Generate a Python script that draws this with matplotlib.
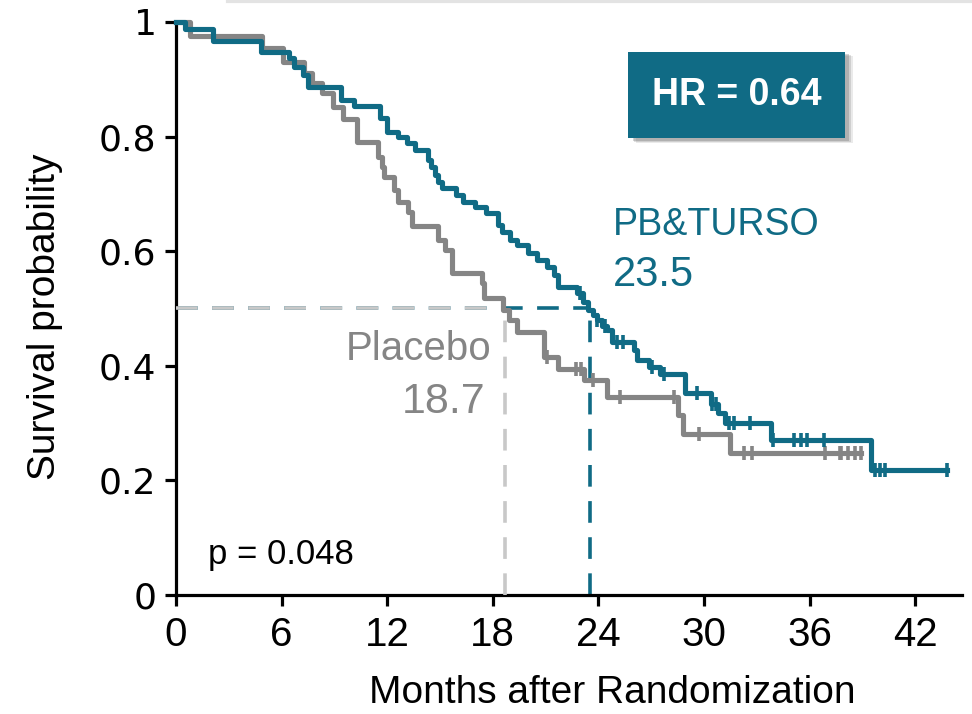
import matplotlib.pyplot as plt
import numpy as np
from matplotlib.patches import Rectangle

blue = '#106b85'
gray = '#858585'
light = '#c8c8c8'

# PB&TURSO arm: event times (months) and survival after each step
pb_t = [0.5, 2.1, 4.8, 6.4, 6.7, 7.2, 7.5, 9.4, 10.1, 11.6, 12.0, 12.6, 13.1, 13.6,
        14.3, 14.5, 14.7, 14.9, 15.1, 15.9, 16.3, 17.0, 17.6, 18.3, 18.5, 19.0, 19.4,
        20.0, 20.5, 21.1, 21.5, 21.7, 22.8, 23.1, 23.4, 23.7, 23.9, 24.2, 24.5, 24.8,
        26.0, 26.2, 26.9, 27.5, 28.9, 30.4, 30.8, 31.2, 33.8, 39.5]
pb_s = [0.988, 0.967, 0.948, 0.937, 0.921, 0.907, 0.887, 0.864, 0.853, 0.832, 0.808,
        0.799, 0.789, 0.777, 0.759, 0.747, 0.733, 0.721, 0.710, 0.698, 0.686, 0.677,
        0.667, 0.646, 0.634, 0.620, 0.611, 0.597, 0.585, 0.572, 0.558, 0.538, 0.527,
        0.511, 0.497, 0.489, 0.480, 0.470, 0.462, 0.442, 0.428, 0.410, 0.398, 0.386,
        0.352, 0.333, 0.318, 0.300, 0.270, 0.218]
pb_cens = [22.95, 23.9, 24.4, 25.05, 25.4, 27.05, 27.7, 29.6, 30.45, 30.7, 31.4, 31.7,
           32.6, 33.9, 35.1, 35.5, 35.85, 36.8, 39.7, 40.0, 40.3, 43.8]

# Placebo arm
pl_t = [0.8, 4.9, 6.1, 7.3, 7.7, 8.3, 8.9, 9.5, 10.3, 11.5, 11.7, 11.8, 12.4, 12.6,
        13.2, 13.4, 14.9, 15.3, 15.7, 17.4, 17.5, 18.6, 18.9, 19.4, 20.9, 21.7, 23.2,
        24.5, 28.5, 28.8, 31.5]
pl_s = [0.976, 0.955, 0.930, 0.911, 0.894, 0.876, 0.852, 0.831, 0.791, 0.764, 0.747,
        0.729, 0.707, 0.686, 0.668, 0.644, 0.620, 0.602, 0.562, 0.545, 0.518, 0.497,
        0.480, 0.459, 0.415, 0.394, 0.375, 0.346, 0.314, 0.281, 0.248]
pl_cens = [21.1, 22.7, 23.0, 23.7, 25.2, 28.3, 29.7, 32.3, 32.7, 36.9, 37.7, 37.8,
           38.2, 38.6, 38.9]

pb_median = 23.5
pl_median = 18.7
x_ticks = [0, 6, 12, 18, 24, 30, 36, 42]
y_ticks = [0, 0.2, 0.4, 0.6, 0.8, 1]
y_labels = ['0', '0.2', '0.4', '0.6', '0.8', '1']

fig = plt.figure(figsize=(9.72, 7.14), dpi=100)
ax = fig.add_axes([0.1811, 0.1667, 0.8086, 0.8025])


def km(ax, t, s, cens, color):
    xs = np.r_[0, t, cens[-1]]
    ys = np.r_[1, s, s[-1]]
    ax.step(xs, ys, where='post', color=color, lw=3.7, clip_on=False, zorder=4)
    idx = np.searchsorted(t, cens, side='right')
    cy = np.r_[1, s][idx]
    ax.plot(cens, cy, ls='none', marker='|', ms=10, mew=2.6, color=color, zorder=4)


# median reference lines
ax.plot([0, pb_median], [0.5, 0.5], color=blue, lw=2.6, dashes=(6, 4), zorder=2)
ax.plot([pb_median, pb_median], [0, 0.5], color=blue, lw=2.6, dashes=(6, 4), zorder=2)
ax.plot([0, pl_median], [0.5, 0.5], color=light, lw=2.6, dashes=(6, 4), zorder=3)
ax.plot([pl_median, pl_median], [0, 0.5], color=light, lw=2.6, dashes=(6, 4), zorder=3)

km(ax, pl_t, pl_s, pl_cens, gray)
km(ax, pb_t, pb_s, pb_cens, blue)

ax.set_xlim(0, 44.66)
ax.set_ylim(0, 1)
ax.spines['top'].set_visible(False)
ax.spines['right'].set_visible(False)
for sp in ['left', 'bottom']:
    ax.spines[sp].set_linewidth(2.3)
ax.tick_params(width=2.3, length=8)
ax.set_xticks(x_ticks)
ax.set_xticklabels([str(v) for v in x_ticks], family='Liberation Sans', fontsize=29)
ax.set_yticks(y_ticks)
ax.set_yticklabels(y_labels, family='DejaVu Sans', fontsize=26)
ax.tick_params(axis='x', pad=7)
ax.tick_params(axis='y', pad=6)

fig.text(0.046, 0.556, 'Survival probability', rotation=90, ha='center', va='center',
         family='Liberation Sans', fontsize=28)
fig.text(0.63, 0.03, 'Months after Randomization', ha='center', va='center',
         family='Liberation Sans', fontsize=28)

ax.text(24.8, 0.646, 'PB&TURSO', color=blue, fontsize=27, family='Liberation Sans',
        ha='left', va='center')
ax.text(24.8, 0.558, '23.5', color=blue, fontsize=30, family='Liberation Sans',
        ha='left', va='center')
ax.text(17.95, 0.429, 'Placebo', color=gray, fontsize=29, family='Liberation Sans',
        ha='right', va='center')
ax.text(17.55, 0.337, '18.7', color=gray, fontsize=31, family='Liberation Sans',
        ha='right', va='center')
ax.text(1.8, 0.07, 'p = 0.048', color='black', fontsize=25, family='Liberation Sans',
        ha='left', va='center')

# HR box with soft shadow
bx, by, bw, bh = 25.7, 0.797, 12.3, 0.151
for i, a in enumerate([0.12, 0.18, 0.25]):
    off = 0.45 - i * 0.1
    ax.add_patch(Rectangle((bx + off, by - off * 0.017), bw, bh, color='#555555',
                           alpha=a, lw=0, zorder=5))
ax.add_patch(Rectangle((bx, by), bw, bh, color=blue, lw=0, zorder=6))
ax.text(bx + bw / 2, by + bh / 2, 'HR = 0.64', color='white', fontsize=27,
        fontweight='bold', family='Liberation Sans', ha='center', va='center', zorder=7)

fig.add_artist(plt.Line2D([0.235, 1.0], [0.998, 0.998], color='#e3e3e3', lw=3))

fig.savefig('out.png', dpi=100)
